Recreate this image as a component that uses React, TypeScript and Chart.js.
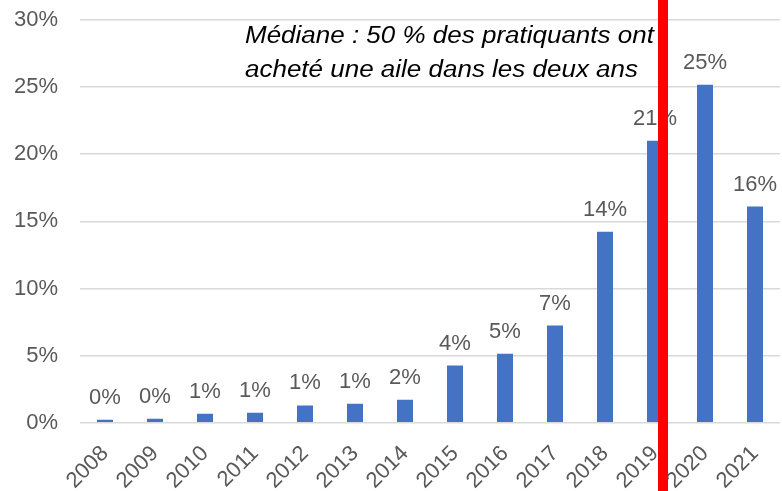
import React, { useEffect, useRef } from "react";
import { Chart, registerables } from "chart.js";

Chart.register(...registerables);

const categories = ["2008", "2009", "2010", "2011", "2012", "2013", "2014", "2015", "2016", "2017", "2018", "2019", "2020", "2021"];
const shares = [0.22, 0.3, 0.67, 0.74, 1.29, 1.41, 1.71, 4.26, 5.13, 7.24, 14.23, 21.0, 25.17, 16.1];
const yTicks = [0, 5, 10, 15, 20, 25, 30];
const medianPosition = 11.16; // category index where the median line sits
const annotationLines = ["Médiane : 50 % des pratiquants ont", "acheté une aile dans les deux ans"];

const FONT = "'Liberation Sans', Arial, sans-serif";
const GRAY = "#595959";

const overlayPlugin = {
  id: "overlay",
  afterDatasetsDraw(chart: any) {
    const ctx = chart.ctx;
    const meta = chart.getDatasetMeta(0);
    ctx.save();
    ctx.fillStyle = GRAY;
    ctx.font = `22px ${FONT}`;
    ctx.textAlign = "center";
    ctx.textBaseline = "alphabetic";
    meta.data.forEach((bar: any, i: number) => {
      const v = shares[i];
      ctx.fillText(`${Math.round(v)}%`, bar.x, bar.y - 16);
    });
    ctx.restore();
  },
  afterDraw(chart: any) {
    const ctx = chart.ctx;
    const { chartArea } = chart;
    const x = chart.scales.x.getPixelForValue(medianPosition);
    ctx.save();
    ctx.fillStyle = "#FF0000";
    ctx.fillRect(x - 5, 0, 10, chart.height);
    ctx.restore();

    ctx.save();
    ctx.fillStyle = "#000000";
    ctx.font = `italic 23px ${FONT}`;
    ctx.textAlign = "left";
    ctx.textBaseline = "alphabetic";
    const tx = chartArea.left + 165;
    annotationLines.forEach((line, i) => {
      ctx.save();
      ctx.translate(tx, chartArea.top + 23 + i * 34);
      ctx.scale(1.13, 1);
      ctx.fillText(line, 0, 0);
      ctx.restore();
    });
    ctx.restore();
  },
};

export default function App() {
  const ref = useRef<HTMLCanvasElement | null>(null);
  useEffect(() => {
    if (!ref.current) return;
    const chart = new Chart(ref.current, {
      type: "bar",
      data: {
        labels: categories,
        datasets: [
          {
            data: shares,
            backgroundColor: "#4472C4",
            barPercentage: 0.32,
            categoryPercentage: 1,
          },
        ],
      },
      options: {
        animation: false,
        responsive: false,
        layout: { padding: { left: 14, right: 2, top: 20, bottom: 0 } },
        plugins: { legend: { display: false }, tooltip: { enabled: false } },
        scales: {
          x: {
            grid: { display: false },
            border: { display: false },
            afterFit: (scale: any) => {
              scale.paddingLeft = 0;
              scale.paddingRight = 0;
              scale.height = scale.height - 13;
            },
            ticks: {
              color: GRAY,
              font: { family: FONT, size: 22 },
              minRotation: 45,
              maxRotation: 45,
              padding: 10,
            },
          },
          y: {
            min: 0,
            max: 30,
            afterBuildTicks: (scale: any) => {
              scale.ticks = yTicks.map((v) => ({ value: v }));
            },
            afterFit: (scale: any) => {
              scale.paddingTop = 0;
              scale.paddingBottom = 0;
              scale.width = 66;
            },
            grid: { color: "#D9D9D9", lineWidth: 1.5, drawTicks: false },
            border: { display: false },
            ticks: {
              color: GRAY,
              font: { family: FONT, size: 22 },
              padding: 22,
              callback: (v: any) => `${v}%`,
            },
          },
        },
      },
      plugins: [overlayPlugin],
    });
    return () => chart.destroy();
  }, []);
  return (
    <div style={{ position: "absolute", left: 0, top: 0, width: 782, height: 491, background: "#fff" }}>
      <canvas ref={ref} width={782} height={491} />
    </div>
  );
}
